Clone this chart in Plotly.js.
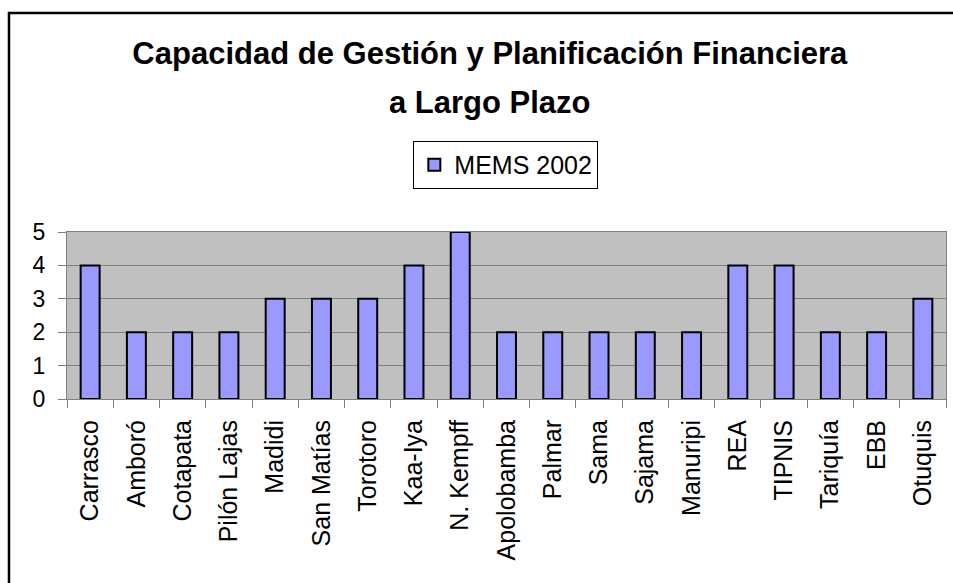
<!DOCTYPE html>
<html>
<head>
<meta charset="utf-8">
<script src="https://cdn.plot.ly/plotly-3.0.1.min.js"></script>
<style>html,body{margin:0;padding:0;background:#fff;}#chart{width:953px;height:583px;}</style>
</head>
<body>
<div id="chart"></div>
<script>
const categories = ["Carrasco","Amboró","Cotapata","Pilón Lajas","Madidi","San Matías","Torotoro","Kaa-Iya","N. Kempff","Apolobamba","Palmar","Sama","Sajama","Manuripi","REA","TIPNIS","Tariquía","EBB","Otuquis"];
const mems2002 = [4,2,2,2,3,3,3,4,5,2,2,2,2,2,4,4,2,2,3];
const yTicks = [0,1,2,3,4,5];
const seriesName = "MEMS 2002";
const titleLine1 = "Capacidad de Gestión y Planificación Financiera";
const titleLine2 = "a Largo Plazo";

const FONT = "Liberation Sans, Arial, sans-serif";

const trace = {
  type: "bar",
  x: categories,
  y: mems2002,
  name: seriesName,
  marker: {color: "#9999FF", line: {color: "#000000", width: 2}},
  showlegend: true,
  hoverinfo: "x+y"
};

const layout = {
  width: 953, height: 583,
  margin: {l: 67, r: 7, t: 232, b: 184, pad: 0},
  paper_bgcolor: "#FFFFFF",
  plot_bgcolor: "#C0C0C0",
  font: {family: FONT, color: "#000000"},
  bargap: 0.59,
  title: {
    text: "<b>" + titleLine1 + "</b>",
    font: {family: FONT, size: 31, color: "#000000"},
    x: 0.514, xref: "container", xanchor: "center",
    y: 0.909, yref: "container", yanchor: "middle"
  },
  annotations: [{
    text: "<b>" + titleLine2 + "</b>",
    font: {family: FONT, size: 31, color: "#000000"},
    xref: "paper", yref: "paper", x: 0.481, y: 1.775,
    xanchor: "center", yanchor: "middle", showarrow: false
  }],
  showlegend: true,
  legend: {
    x: 0.394, y: 1.545, xanchor: "left", yanchor: "top",
    xref: "paper", yref: "paper",
    bgcolor: "#FFFFFF", bordercolor: "#000000", borderwidth: 1,
    font: {family: FONT, size: 25, color: "#000000"}
  },
  xaxis: {
    type: "category",
    tickangle: -90,
    tickson: "boundaries",
    ticks: "outside", ticklen: 8, tickcolor: "#808080", tickwidth: 1,
    tickfont: {family: FONT, size: 25, color: "#000000"},
    showline: true, linecolor: "#808080", linewidth: 1, mirror: true,
    showgrid: false, zeroline: false,
    ticklabelstandoff: 10,
    fixedrange: true
  },
  yaxis: {
    range: [0, 5],
    tickvals: yTicks,
    ticktext: yTicks.map(String),
    ticks: "outside", ticklen: 8, tickcolor: "#808080", tickwidth: 1,
    tickfont: {family: FONT, size: 23, color: "#000000"},
    showline: true, linecolor: "#808080", linewidth: 1, mirror: true,
    showgrid: true, gridcolor: "#808080", gridwidth: 1,
    zeroline: false,
    ticklabelstandoff: 8,
    fixedrange: true
  },
  shapes: [{
    type: "rect", xref: "paper", yref: "paper",
    x0: -0.066, x1: 1.2, y0: -1.5, y1: 2.311,
    line: {color: "#000000", width: 2.5}, fillcolor: "rgba(0,0,0,0)",
    layer: "below"
  }]
};

Plotly.newPlot("chart", [trace], layout, {displayModeBar: false, staticPlot: true});
</script>
</body>
</html>
